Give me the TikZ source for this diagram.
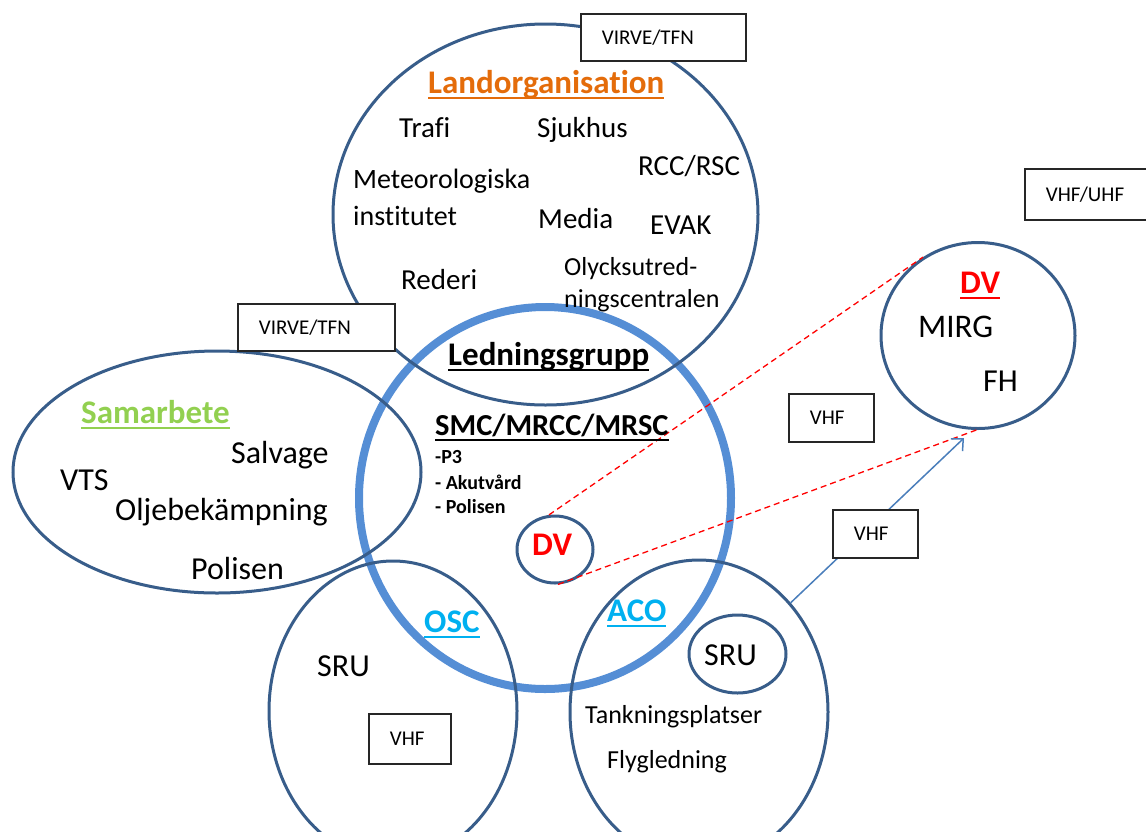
\documentclass[tikz,border=0pt]{standalone}
\usepackage{fontspec}
\setmainfont[Ligatures=NoCommon]{Carlito}
\usetikzlibrary{shapes.geometric,arrows.meta}
\definecolor{ringblue}{HTML}{385D8A}
\definecolor{thickblue}{HTML}{558ED5}
\definecolor{arrowblue}{HTML}{4A7EBB}
\definecolor{orghead}{HTML}{E46C0A}
\definecolor{samhead}{HTML}{92D050}
\definecolor{cyanhead}{HTML}{00B0F0}
\definecolor{redhead}{HTML}{FF0000}
\newcommand{\myul}[1]{\leavevmode\setbox0\hbox{#1}\rlap{\rule[-0.19em]{\wd0}{0.07em}}\box0}
\newcommand{\fs}[1]{\fontsize{#1}{#1}\selectfont}
\tikzset{
  ring/.style={ellipse, draw=ringblue, line width=3pt, inner sep=0pt},
  bigring/.style={ellipse, draw=thickblue, line width=8pt, inner sep=0pt},
  lbox/.style={rectangle, draw=black!85, line width=1.8pt, fill=white, anchor=north west,
               inner xsep=21pt, inner ysep=0pt, align=left, font=\fs{21}},
  txt/.style={anchor=base west, inner sep=0pt},
  headb/.style={txt, font=\bfseries\fs{33}},
  dvline/.style={draw=redhead, line width=1.3pt, dash pattern=on 6pt off 4pt},
}
\begin{document}
\begin{tikzpicture}[x=1pt,y=-1pt]
\useasboundingbox (0,0) rectangle (1146,831);
% big circle
\node[bigring, minimum width=372pt, minimum height=382pt] (lg) at (545,498) {};
% ellipses
\node[ring, minimum width=425pt, minimum height=381pt] (land) at (545.5,214.5) {};
\node[ring, minimum width=408pt, minimum height=242pt] (sam) at (217,472) {};
\node[ring, minimum width=248pt, minimum height=300pt] (osc) at (393,711) {};
\node[ring, minimum width=258pt, minimum height=304pt] (aco) at (699,712) {};
\node[ring, minimum width=97pt, minimum height=78pt] (sru2) at (737.5,654) {};
\node[ring, minimum width=76pt, minimum height=67pt] (dv1) at (555,549.5) {};
\node[ring, minimum width=194pt, minimum height=186pt] (dv2) at (978,335.5) {};
% connectors
\coordinate (arrowend) at (964,438);
\draw[dvline] (dv1.100) -- (dv2.125);
\draw[dvline] (dv1.275) -- (dv2.269);
\draw[arrowblue, line width=1.5pt, -{Straight Barb[length=9pt,width=17pt]}] (aco.50) -- (arrowend);
% boxes
\node[lbox, minimum height=47pt, text width=123pt] (b1) at (580,13) {VIRVE/TFN};
\node[lbox, minimum height=47pt, text width=115pt] (b2) at (237,303) {VIRVE/TFN};
\node[lbox, minimum height=51pt, text width=82pt] (b3) at (1024,168) {VHF/UHF};
\node[lbox, minimum height=48pt, text width=43pt] (b4) at (788,393) {VHF};
\node[lbox, minimum height=48pt, text width=43pt] (b5) at (832,509) {VHF};
\node[lbox, minimum height=50pt, text width=40pt] (b6) at (368,713) {VHF};
% Landorganisation texts
\node[headb, text=orghead] (t1) at (428,93) {\myul{Landorganisation}};
\node[txt, font=\fs{29}] (t2) at (399,137) {Trafi};
\node[txt, font=\fs{29}] (t3) at (537,137) {Sjukhus};
\node[txt, font=\fs{29}] (t4) at (638,175) {RCC/RSC};
\node[txt, font=\fs{28}] (t5) at (353,188) {Meteorologiska};
\node[txt, font=\fs{28}] (t6) at (353,225) {institutet};
\node[txt, font=\fs{29}] (t7) at (538,228) {Media};
\node[txt, font=\fs{29}] (t8) at (650,234) {EVAK};
\node[txt, font=\fs{29}] (t9) at (401,289) {Rederi};
\node[txt, font=\fs{26}] (t10) at (564,275) {Olycksutred-};
\node[txt, font=\fs{26}] (t11) at (564,307) {ningscentralen};
% Samarbete texts
\node[headb, text=samhead] (s1) at (81,423) {\myul{Samarbete}};
\node[txt, font=\fs{32}] (s2) at (231,463) {Salvage};
\node[txt, font=\fs{32}] (s3) at (60,490) {VTS};
\node[txt, font=\fs{32}] (s4) at (115,520) {Oljebekämpning};
\node[txt, font=\fs{32}] (s5) at (191,579) {Polisen};
% Ledningsgrupp texts
\node[headb] (l1) at (448,365) {\myul{Ledningsgrupp}};
\node[txt, font=\bfseries\fs{30.5}] (l2) at (435,435) {\myul{SMC/MRCC/MRSC}};
\node[txt, font=\bfseries\fs{20}] (l3) at (435,463) {-P3};
\node[txt, font=\bfseries\fs{20}] (l4) at (435,489) {- Akutvård};
\node[txt, font=\bfseries\fs{20}] (l5) at (435,513) {- Polisen};
\node[headb, text=redhead] (d1) at (532,555) {DV};
% DV right
\node[headb, text=redhead] (d2) at (960,293) {\myul{DV}};
\node[txt, font=\fs{33}] (d3) at (918,337) {MIRG};
\node[txt, font=\fs{32}] (d4) at (983,391) {FH};
% OSC / ACO
\node[headb, text=cyanhead] (o1) at (424,632) {\myul{OSC}};
\node[txt, font=\fs{32}] (o2) at (317,676) {SRU};
\node[headb, text=cyanhead] (a1) at (607,621) {\myul{ACO}};
\node[txt, font=\fs{32}] (a2) at (704,665) {SRU};
\node[txt, font=\fs{26}] (a3) at (585,723) {Tankningsplatser};
\node[txt, font=\fs{26}] (a4) at (607,768) {Flygledning};
\end{tikzpicture}
\end{document}
